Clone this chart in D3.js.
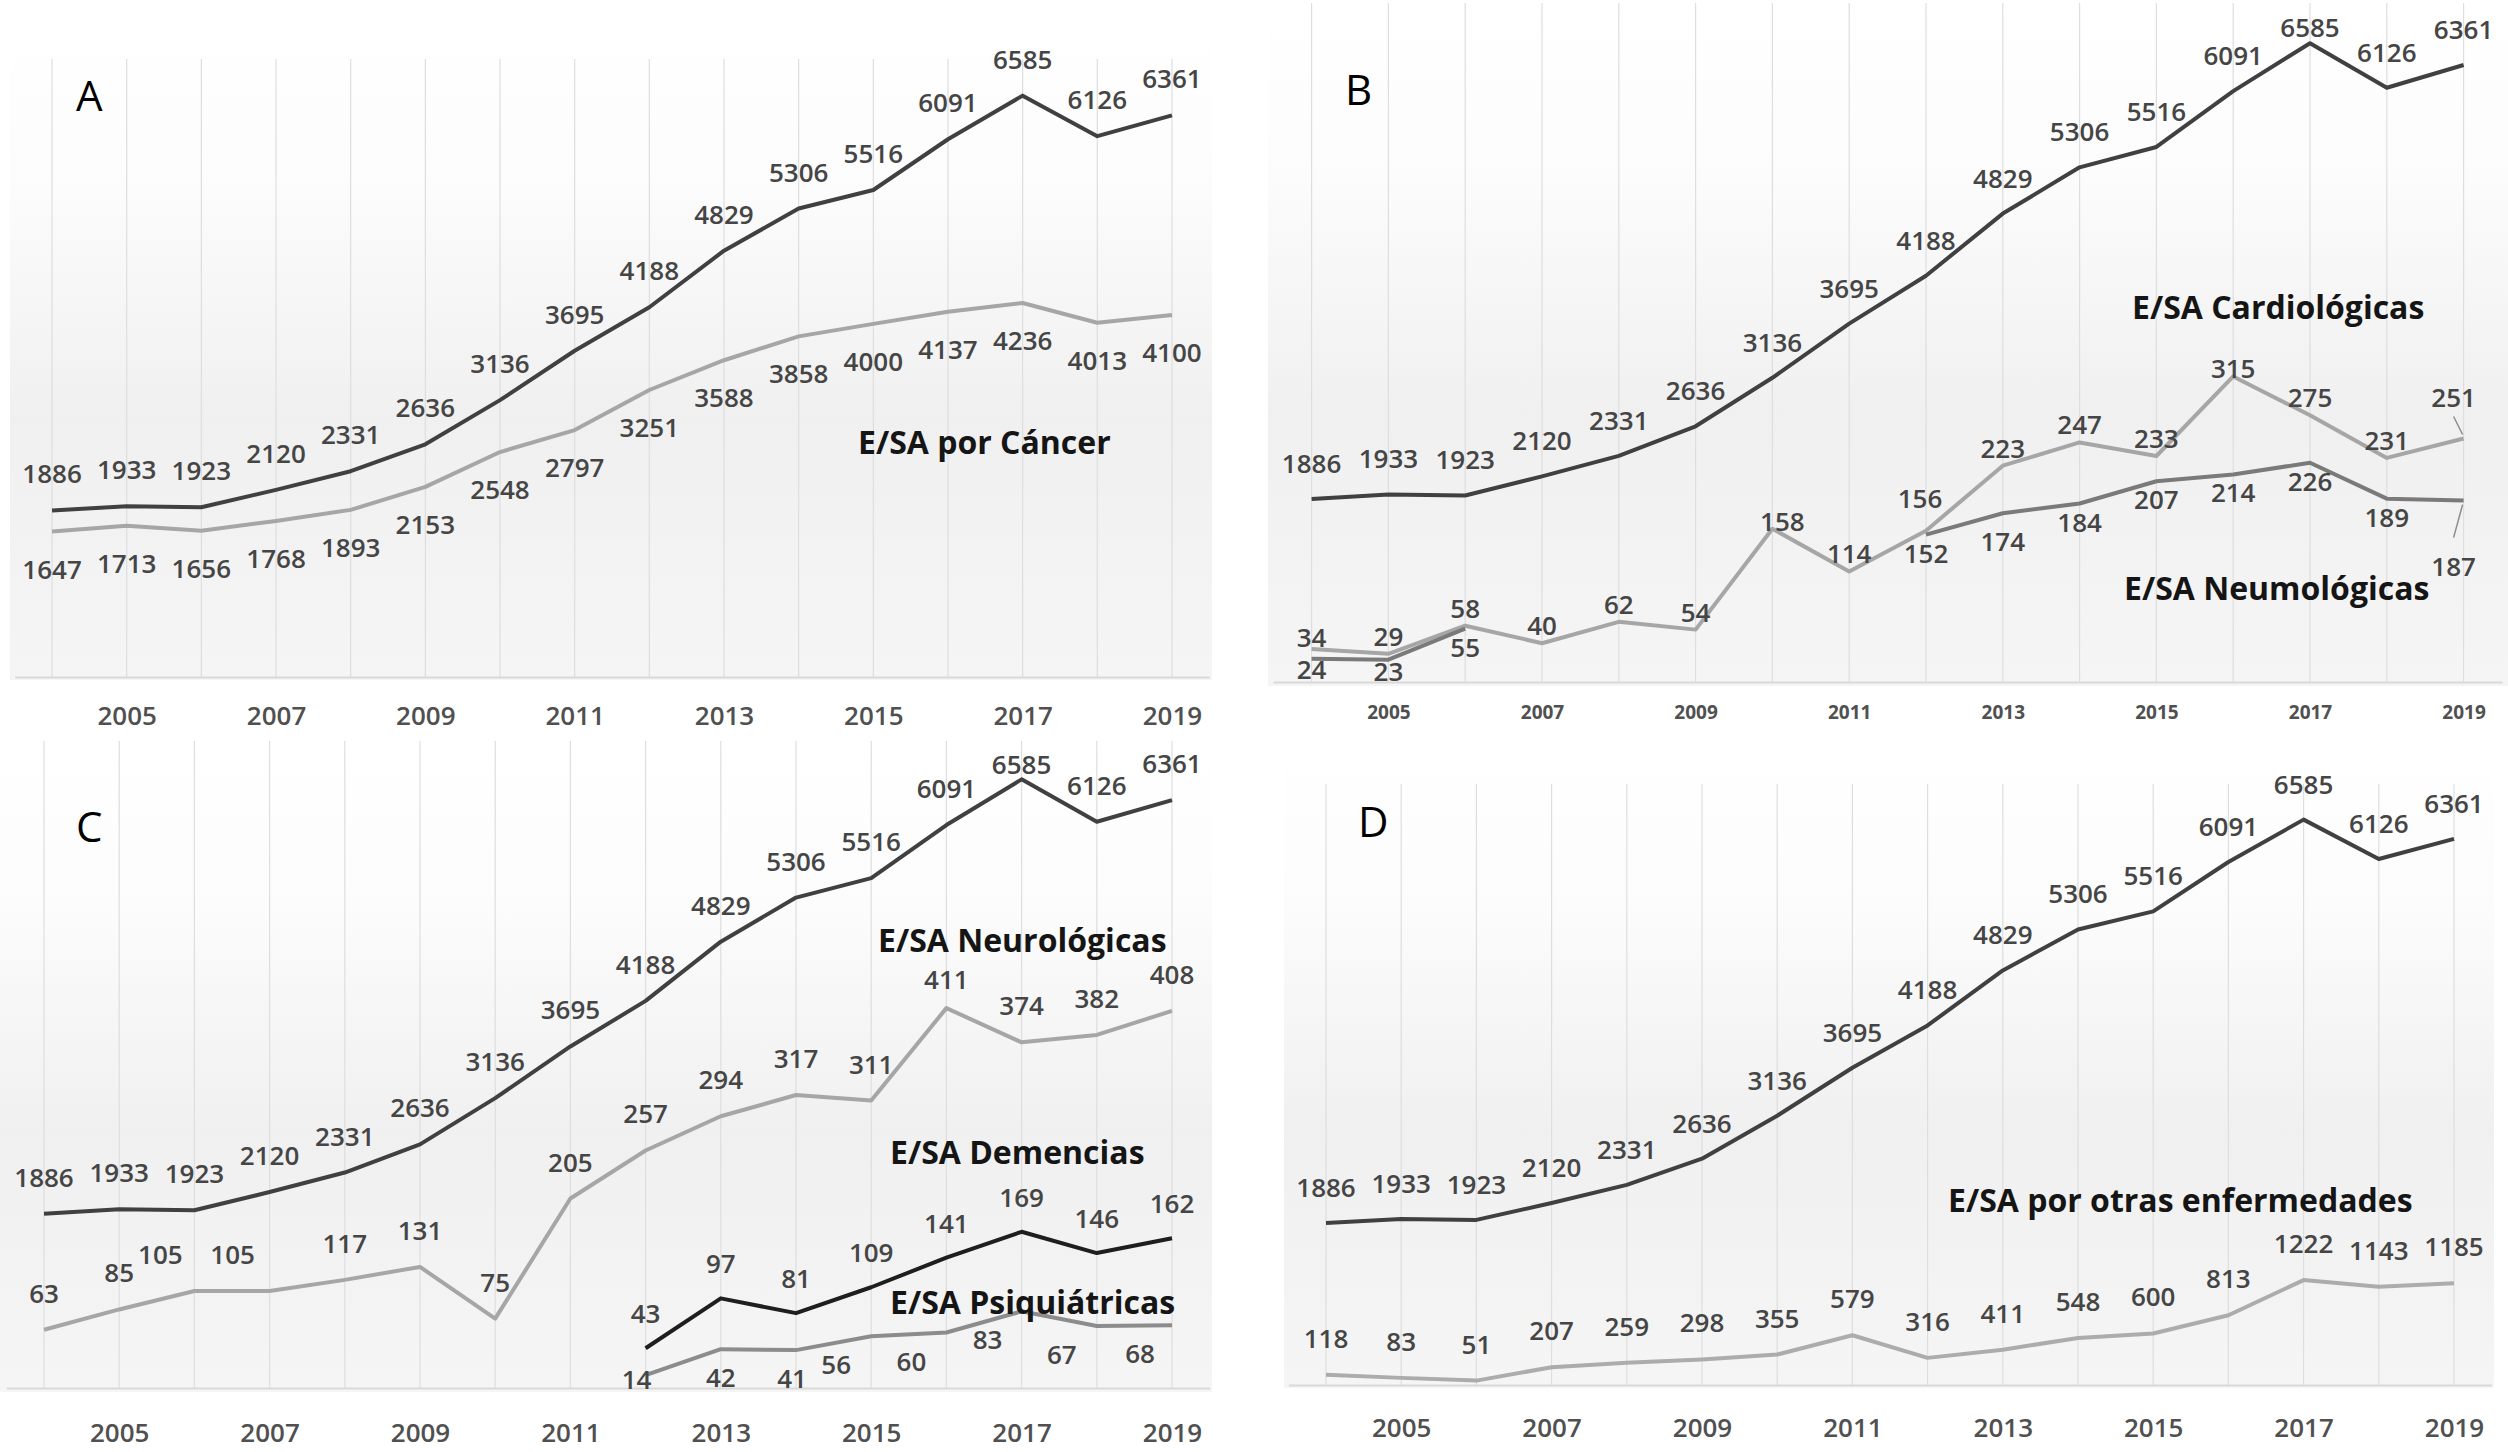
<!DOCTYPE html>
<html>
<head>
<meta charset="utf-8" />
<title>E/SA por grupos de enfermedad</title>
<style>
    body { margin: 0; background: #fff; }
    text { font-family: "Open Sans", "Noto Sans", sans-serif; }
    text.val { font-size: 26px; font-weight: 600; fill: #454545; }
    text.serie { font-size: 32px; font-weight: bold; fill: #151515; }
    text.letra { font-size: 42px; fill: #000; }
</style>
<script src="https://d3js.org/d3.v7.min.js"></script>
</head>
<body>
<script>

// ---- data ----
const years = [2004, 2005, 2006, 2007, 2008, 2009, 2010, 2011, 2012, 2013, 2014, 2015, 2016, 2017, 2018, 2019];
const tickYears = [2005, 2007, 2009, 2011, 2013, 2015, 2017, 2019];

const totalES = [1886, 1933, 1923, 2120, 2331, 2636, 3136, 3695, 4188, 4829, 5306, 5516, 6091, 6585, 6126, 6361];
const cancer = [1647, 1713, 1656, 1768, 1893, 2153, 2548, 2797, 3251, 3588, 3858, 4000, 4137, 4236, 4013, 4100];
const cardio = [34, 29, 58, 40, 62, 54, 158, 114, 156, 223, 247, 233, 315, 275, 231, 251];
const neumo = [24, 23, 55, null, null, null, null, null, 152, 174, 184, 207, 214, 226, 189, 187];
const neuro = [63, 85, 105, 105, 117, 131, 75, 205, 257, 294, 317, 311, 411, 374, 382, 408];
const demencias = [null, null, null, null, null, null, null, null, 43, 97, 81, 109, 141, 169, 146, 162];
const psiq = [null, null, null, null, null, null, null, null, 14, 42, 41, 56, 60, 83, 67, 68];
const otras = [118, 83, 51, 207, 259, 298, 355, 579, 316, 411, 548, 600, 813, 1222, 1143, 1185];

// ---- layout of the four panels ----
const W = 2508, H = 1452;

let panels = [
    { id: "A", axis: [14.7, 1209.3], y0: 677, yTop: 59, tickY: 38, tickCls: "normal",
      bg: [10, 20, 1202, 660], letter: [76, 111],
      series: [
          { name: "total", values: totalES, sec: false, color: "#404040", lab: -37 },
          { name: "cancer", values: cancer, sec: false, color: "#a6a6a6", lab: 37 }
      ],
      titles: [{ t: "E/SA por Cáncer", x: 858, y: 454 }] },
    { id: "B", axis: [1273.2, 2502], y0: 682, yTop: 3, tickY: 30, tickCls: "small",
      bg: [1268, 0, 1240, 686], letter: [1345, 105],
      series: [
          { name: "total", values: totalES, sec: false, color: "#404040", lab: -36 },
          { name: "cardio", values: cardio, sec: true, color: "#a6a6a6", lab: -18 },
          { name: "neumo", values: neumo, sec: true, color: "#7a7a7a", lab: 18 }
      ],
      titles: [{ t: "E/SA Cardiológicas", x: 2132, y: 319 },
               { t: "E/SA Neumológicas", x: 2124, y: 600 }] },
    { id: "C", axis: [6.4, 1209.6], y0: 1388, yTop: 741, tickY: 44, tickCls: "normal",
      bg: [0, 740, 1212, 652], letter: [76, 842],
      series: [
          { name: "total", values: totalES, sec: false, color: "#404040", lab: -37 },
          { name: "neuro", values: neuro, sec: true, color: "#a6a6a6", lab: -37 },
          { name: "dem", values: demencias, sec: true, color: "#1e1e1e", lab: -35 },
          { name: "psiq", values: psiq, sec: true, color: "#8c8c8c", lab: 28 }
      ],
      titles: [{ t: "E/SA Neurológicas", x: 878, y: 952 },
               { t: "E/SA Demencias", x: 890, y: 1164 },
               { t: "E/SA Psiquiátricas", x: 890, y: 1314 }] },
    { id: "D", axis: [1288.4, 2491.6], y0: 1385, yTop: 784, tickY: 42, tickCls: "normal",
      bg: [1284, 740, 1210, 648], letter: [1358, 837],
      series: [
          { name: "total", values: totalES, sec: false, color: "#404040", lab: -36 },
          { name: "otras", values: otras, sec: false, color: "#acacac", lab: -37 }
      ],
      titles: [{ t: "E/SA por otras enfermedades", x: 1948, y: 1212 }] }
];

// label nudges [dx, dy, leader]
let nudge = {
    "B-total-2017": [0, 20],
    "B-cardio-2004": [0, 6],
    "B-cardio-2010": [10, 10],
    "B-cardio-2012": [-6, -15],
    "B-cardio-2016": [0, 10],
    "B-cardio-2019": [-10, -24, true],
    "B-neumo-2004": [0, -8],
    "B-neumo-2005": [0, -7],
    "B-neumo-2013": [0, 10],
    "B-neumo-2019": [-10, 47, true],
    "C-total-2017": [0, 22],
    "C-neuro-2006": [-34, 0],
    "C-neuro-2007": [-37, 0],
    "C-neuro-2016": [0, 8],
    "C-psiq-2012": [-9, -24],
    "C-psiq-2014": [-4, 0],
    "C-psiq-2015": [-35, 0],
    "C-psiq-2016": [-35, 0],
    "C-psiq-2017": [-34, 0],
    "C-psiq-2018": [-35, 0],
    "C-psiq-2019": [-32, 0]
};

let svg = d3.select("body")
    .append("svg")
    .attr("width", W)
    .attr("height", H);

// soft grey gradient like the office chart fill
let grad = svg.append("defs").append("linearGradient")
    .attr("id", "fondo")
    .attr("x1", 0).attr("y1", 0).attr("x2", 0).attr("y2", 1);
grad.append("stop").attr("offset", "0%").attr("stop-color", "#ffffff");
grad.append("stop").attr("offset", "25%").attr("stop-color", "#fcfcfc");
grad.append("stop").attr("offset", "60%").attr("stop-color", "#f0f0f0");
grad.append("stop").attr("offset", "100%").attr("stop-color", "#f5f5f5");

panels.forEach(p => {
    let g = svg.append("g").attr("class", "panel-" + p.id);

    let x = d3.scalePoint()
        .domain(years)
        .range(p.axis)
        .padding(0.5);
    let y = d3.scaleLinear().domain([0, 7000]).range([p.y0, p.yTop]);
    let y2 = d3.scaleLinear().domain([0, 700]).range([p.y0, p.yTop]);

    g.append("rect")
        .attr("x", p.bg[0]).attr("y", p.bg[1])
        .attr("width", p.bg[2]).attr("height", p.bg[3])
        .attr("fill", "url(#fondo)");

    // vertical guide lines
    g.selectAll("line.grid")
        .data(years)
        .enter()
        .append("line")
        .attr("class", "grid")
        .attr("x1", d => x(d)).attr("x2", d => x(d))
        .attr("y1", p.y0).attr("y2", p.yTop)
        .attr("stroke", "#dedede")
        .attr("stroke-width", 1.2);

    // x axis
    let ax = g.append("g")
        .attr("transform", "translate(0," + p.y0 + ")")
        .call(d3.axisBottom(x).tickValues(tickYears).tickSize(0).tickSizeOuter(0));
    ax.select(".domain").attr("stroke", "#d9d9d9").attr("stroke-width", 2);
    ax.selectAll("text")
        .attr("dy", null)
        .attr("y", p.tickY)
        .attr("dominant-baseline", "central")
        .style("font-family", "'Open Sans', sans-serif")
        .style("font-size", p.tickCls == "small" ? "19px" : "26px")
        .style("font-weight", p.tickCls == "small" ? "bold" : "600")
        .style("fill", "#505050");

    // lines
    p.series.forEach(s => {
        let sc = s.sec ? y2 : y;
        let line = d3.line()
            .defined(d => d[1] != null)
            .x(d => x(d[0]))
            .y(d => sc(d[1]));
        g.append("path")
            .datum(years.map((yr, i) => [yr, s.values[i]]))
            .attr("d", line)
            .attr("fill", "none")
            .attr("stroke", s.color)
            .attr("stroke-width", 4)
            .attr("stroke-linejoin", "round");
    });

    // data labels
    p.series.forEach(s => {
        let sc = s.sec ? y2 : y;
        let pts = years.map((yr, i) => {
            let n = nudge[p.id + "-" + s.name + "-" + yr] || [0, 0];
            return { yr: yr, v: s.values[i], dx: n[0], dy: n[1], leader: n[2] };
        }).filter(d => d.v != null);

        g.selectAll("text.val-" + s.name)
            .data(pts)
            .enter()
            .append("text")
            .attr("class", "val")
            .attr("text-anchor", "middle")
            .attr("dominant-baseline", "central")
            .attr("x", d => x(d.yr) + d.dx)
            .attr("y", d => sc(d.v) + s.lab + d.dy)
            .text(d => d.v);

        // little leader lines when a label was pulled away
        g.selectAll("line.lead-" + s.name)
            .data(pts.filter(d => d.leader))
            .enter()
            .append("line")
            .attr("x1", d => x(d.yr) + d.dx)
            .attr("y1", d => {
                let ly = sc(d.v) + s.lab + d.dy;
                return ly + (ly < sc(d.v) ? 20 : -28);
            })
            .attr("x2", d => x(d.yr) - 1)
            .attr("y2", d => {
                let ly = sc(d.v) + s.lab + d.dy;
                return sc(d.v) + (ly < sc(d.v) ? -4 : 4);
            })
            .attr("stroke", "#8c8c8c")
            .attr("stroke-width", 1.5);
    });

    // series names
    g.selectAll("text.serie")
        .data(p.titles)
        .enter()
        .append("text")
        .attr("class", "serie")
        .attr("x", d => d.x)
        .attr("y", d => d.y)
        .text(d => d.t);

    // panel letter
    g.append("text")
        .attr("class", "letra")
        .attr("x", p.letter[0])
        .attr("y", p.letter[1])
        .text(p.id);
});

</script>
</body>
</html>
